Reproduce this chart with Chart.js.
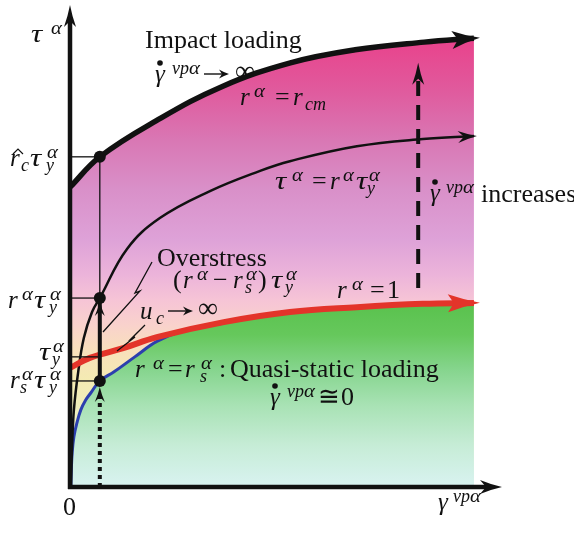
<!DOCTYPE html>
<html>
<head>
<meta charset="utf-8">
<script src="https://cdn.jsdelivr.net/npm/chart.js@4.4.1/dist/chart.umd.min.js"></script>
<style>
  body { margin: 0; background: #fff; }
  #wrap { width: 574px; height: 533px; }
</style>
</head>
<body>
<div id="wrap"><canvas id="chartCurvas" width="574" height="533"></canvas></div>
<script>
// curvas (x: gamma vp, y: tau), unidades arbitrarias 0..10
const impactoX = [0, 0.69, 2.0, 3.5, 5.1, 6.6, 8.2, 9.35];
const impactoY = [6.22, 6.85, 7.6, 8.3, 8.8, 9.07, 9.23, 9.31];
const tensionX = [0.02, 0.05, 0.09, 0.19, 0.32, 0.51, 0.69, 1.32, 2.08, 3.24, 4.40, 5.09, 6.64, 8.17, 9.35];
const tensionY = [0, 0.87, 1.60, 2.39, 3.09, 3.63, 3.92, 4.94, 5.58, 6.14, 6.56, 6.76, 7.07, 7.22, 7.28];
const fluenciaX = [0, 0.46, 1.23, 2.01, 3.56, 5.09, 6.64, 8.17, 9.35];
const fluenciaY = [2.47, 2.68, 2.88, 3.11, 3.42, 3.63, 3.73, 3.80, 3.82];
const estaticoX = [0.02, 0.03, 0.05, 0.09, 0.16, 0.25, 0.36, 0.48, 0.69, 1.02, 1.50, 2.01, 2.55, 3.56];
const estaticoY = [0, 0.35, 0.71, 1.04, 1.33, 1.60, 1.80, 1.95, 2.20, 2.39, 2.70, 3.02, 3.22, 3.40];

// marcas
const gammaMarca = 0.69;
const nivelFluencia = 2.70;
const flechaX = 8.06, flechaDesde = 4.13, flechaHasta = 8.80;

const pts = (xs, ys) => xs.map((x, i) => ({ x: x, y: ys[i] }));
const enMarca = (xs, ys) => ys[xs.indexOf(gammaMarca)];
// borde verde: curva azul hasta que se junta con la roja, luego la roja
const bordeVerde = pts(estaticoX, estaticoY).filter(p => p.x < 3)
  .concat(pts(fluenciaX, fluenciaY).filter(p => p.x > 3));

function degradado(chart, paradas) {
  const g = chart.ctx.createLinearGradient(0, 0, 0, 533);
  paradas.forEach(([py, col]) => g.addColorStop(py / 533, col));
  return g;
}
const rosa = [[38, '#e9428b'], [90, '#e05a9d'], [140, '#d977b4'], [190, '#d990c9'], [240, '#dea2d8'],
  [275, '#ecb4da'], [300, '#f6c4d6'], [325, '#f9d2cc'], [350, '#f8e0bc'], [380, '#f4ebb2'],
  [430, '#ecf1c6'], [487, '#d8f1ec']];
const verde = [[300, '#58c14c'], [335, '#66c85c'], [370, '#86d58e'], [405, '#a8e2b4'],
  [445, '#c6ecd6'], [487, '#d9f3f1']];

const SERIF = '"Liberation Serif", "DejaVu Serif", serif';

// tau y alfa algo mas anchas, como en la figura
function letras(c, t, x, y, size, italic) {
  c.font = (italic ? 'italic ' : '') + size + 'px ' + SERIF;
  let cx = x;
  for (const ch of t) {
    const w = c.measureText(ch).width;
    const k = ch === 'τ' ? 1.25 : ch === 'α' ? 1.15 : 1;
    if (k !== 1) {
      c.save(); c.translate(cx, y); c.scale(k, 1); c.fillText(ch, 0, 0); c.restore();
    } else {
      c.fillText(ch, cx, y);
    }
    cx += w * k;
  }
  return cx - x;
}

// [x, linea base, texto, tipo]  i: cursiva, n: recta, p: superindice, b: subindice,
// g: gamma con punto, h: r con gorro, f: flecha (texto = largo), inf: infinito
const textos = [
  [31, 42, 'τ', 'i'], [51, 42, 'α', 'p'],
  [145, 48, 'Impact loading', 'n'],
  [155, 82, 'γ', 'g'], [172, 82, 'vpα', 'p'], [204, 82, 25, 'f'], [235, 82, '∞', 'inf'],
  [240, 105, 'r', 'i'], [254, 105, 'α', 'p'], [275, 105, '=', 'n'], [293, 105, 'r', 'i'], [305, 105, 'cm', 'b'],
  [10, 166, 'r', 'h'], [21, 166, 'c', 'b'], [30, 166, 'τ', 'i'], [47, 166, 'α', 'p'], [46, 166, 'y', 'b'],
  [275, 189, 'τ', 'i'], [292, 189, 'α', 'p'], [312, 189, '=', 'n'], [330, 189, 'r', 'i'], [343, 189, 'α', 'p'],
  [356, 189, 'τ', 'i'], [369, 189, 'α', 'p'], [367, 189, 'y', 'b'],
  [430, 201, 'γ', 'g'], [446, 201, 'vpα', 'p'], [481, 202, 'increases', 'n'],
  [157, 266, 'Overstress', 'n'],
  [173, 288, '(', 'n'], [183, 288, 'r', 'i'], [197, 288, 'α', 'p'], [213, 288, '−', 'n'], [233, 288, 'r', 'i'],
  [246, 288, 'α', 'p'], [245, 288, 's', 'b'], [258, 288, ')', 'n'], [271, 288, 'τ', 'i'], [286, 288, 'α', 'p'], [285, 288, 'y', 'b'],
  [8, 308, 'r', 'i'], [22, 308, 'α', 'p'], [34, 308, 'τ', 'i'], [50, 308, 'α', 'p'], [49, 308, 'y', 'b'],
  [140, 319, 'u', 'i'], [156, 319, 'c', 'b'], [168, 319, 25, 'f'], [198, 319, '∞', 'inf'],
  [337, 298, 'r', 'i'], [352, 298, 'α', 'p'], [370, 298, '=', 'n'], [387, 298, '1', 'n'],
  [39, 360, 'τ', 'i'], [53, 360, 'α', 'p'], [52, 360, 'y', 'b'],
  [10, 388, 'r', 'i'], [22, 388, 'α', 'p'], [20, 388, 's', 'b'], [34, 388, 'τ', 'i'], [50, 388, 'α', 'p'], [49, 388, 'y', 'b'],
  [135, 377, 'r', 'i'], [153, 377, 'α', 'p'], [168, 377, '=', 'n'], [185, 377, 'r', 'i'], [201, 377, 'α', 'p'],
  [200, 377, 's', 'b'], [219, 377, ':', 'n'], [230, 377, 'Quasi-static loading', 'n'],
  [270, 405, 'γ', 'g'], [287, 405, 'vpα', 'p'], [318, 405, '≅', 'n'], [341, 405, '0', 'n'],
  [63, 515, '0', 'n'],
  [438, 510, 'γ', 'i'], [453, 510, 'vpα', 'p']
];

function escribir(c, [x, y, t, tipo]) {
  if (tipo === 'n') return letras(c, t, x, y, 26, false);
  if (tipo === 'i') return letras(c, t, x, y, 25, true);
  if (tipo === 'p') return letras(c, t, x, y - 8, 18, true);
  if (tipo === 'b') return letras(c, t, x, y + 5, 18, true);
  if (tipo === 'inf') return letras(c, t, x, y - 2, 28, false);
  if (tipo === 'g') {
    letras(c, t, x, y, 25, true);
    c.beginPath(); c.arc(x + 5, y - 19, 2.8, 0, Math.PI * 2); c.fill();
    return;
  }
  if (tipo === 'h') {
    letras(c, t, x, y, 25, true);
    c.lineWidth = 1.2; c.beginPath();
    c.moveTo(x + 3, y - 12); c.lineTo(x + 8, y - 17); c.lineTo(x + 13, y - 12); c.stroke();
    return;
  }
  if (tipo === 'f') {
    c.lineWidth = 1.4; c.beginPath(); c.moveTo(x, y - 8); c.lineTo(x + t - 4, y - 8); c.stroke();
    punta(c, x + t, y - 8, 0, 10, 4.5, 3);
  }
}

// lineas quebradas que señalan zonas (pixeles)
const rayos = [
  [[152, 262], [135, 293], [140, 291], [103, 332]],
  [[145, 325], [131, 339], [135, 337], [117, 351]]
];

function punta(c, x, y, ang, largo, ancho, muesca) {
  c.save(); c.translate(x, y); c.rotate(ang);
  c.beginPath();
  c.moveTo(0, 0);
  c.quadraticCurveTo(-largo * 0.5, -ancho * 0.35, -largo, -ancho);
  c.lineTo(-largo + muesca, 0);
  c.lineTo(-largo, ancho);
  c.quadraticCurveTo(-largo * 0.5, ancho * 0.35, 0, 0);
  c.closePath(); c.fill();
  c.restore();
}

const decorado = {
  id: 'decorado',
  afterDatasetsDraw(chart) {
    const c = chart.ctx;
    const X = v => chart.scales.x.getPixelForValue(v);
    const Y = v => chart.scales.y.getPixelForValue(v);
    c.save();
    c.fillStyle = '#111'; c.strokeStyle = '#111';

    // flechas al final de las curvas
    function flechaCurva(idx, color, largo, ancho, extra) {
      const d = chart.getDatasetMeta(idx).data;
      const a = d[d.length - 2], b = d[d.length - 1];
      const ang = Math.atan2(b.y - a.y, b.x - a.x);
      c.fillStyle = color;
      punta(c, b.x + Math.cos(ang) * extra, b.y + Math.sin(ang) * extra, ang, largo, ancho, 6);
      c.fillStyle = '#111';
    }
    flechaCurva(3, '#e3342a', 32, 9, 6);
    flechaCurva(2, '#111', 19, 6, 3);
    flechaCurva(5, '#111', 28, 9, 6);

    // ejes
    c.lineWidth = 4.5;
    c.beginPath(); c.moveTo(X(0), Y(0) + 2); c.lineTo(X(0), Y(10) + 14); c.stroke();
    punta(c, X(0), Y(10), -Math.PI / 2, 22, 6, 6);
    c.beginPath(); c.moveTo(X(0) - 2, Y(0)); c.lineTo(X(10) - 14, Y(0)); c.stroke();
    punta(c, X(10), Y(0), 0, 22, 7, 6);

    const xm = X(gammaMarca);
    const yImp = enMarca(impactoX, impactoY);
    const yTen = enMarca(tensionX, tensionY);
    const yEst = enMarca(estaticoX, estaticoY);
    const niveles = [yImp, yTen, nivelFluencia, yEst];
    c.lineWidth = 1.3;
    niveles.forEach(v => { c.beginPath(); c.moveTo(X(0), Y(v)); c.lineTo(xm, Y(v)); c.stroke(); });
    c.beginPath(); c.moveTo(xm, Y(yImp)); c.lineTo(xm, Y(yTen)); c.stroke();

    // tramo grueso con flechas
    c.lineWidth = 4;
    c.beginPath(); c.moveTo(xm, Y(yTen)); c.lineTo(xm, Y(yEst)); c.stroke();
    punta(c, xm, Y(yTen) + 3, -Math.PI / 2, 15, 5, 5);
    punta(c, xm, Y(yEst) + 6, -Math.PI / 2, 15, 5, 5);

    // punteado desde el eje
    c.setLineDash([4, 4]);
    c.beginPath(); c.moveTo(xm, Y(0)); c.lineTo(xm, Y(yEst) + 14); c.stroke();

    // flecha a trazos: la velocidad aumenta
    c.setLineDash([15, 9]);
    c.beginPath(); c.moveTo(X(flechaX), Y(flechaDesde)); c.lineTo(X(flechaX), Y(flechaHasta) + 14); c.stroke();
    c.setLineDash([]);
    punta(c, X(flechaX), Y(flechaHasta), -Math.PI / 2, 22, 6, 6);

    // puntos
    [yImp, yTen, yEst].forEach(v => {
      c.beginPath(); c.arc(xm, Y(v), 6, 0, Math.PI * 2); c.fill();
    });

    // rayos
    c.lineWidth = 1.3;
    rayos.forEach(r => {
      c.beginPath(); c.moveTo(r[0][0], r[0][1]);
      r.slice(1).forEach(p => c.lineTo(p[0], p[1]));
      c.stroke();
    });

    // textos
    c.textBaseline = 'alphabetic';
    c.fillStyle = '#111'; c.strokeStyle = '#111';
    textos.forEach(t => escribir(c, t));
    c.restore();
  }
};

const ctx = document.getElementById('chartCurvas');
let grafico = new Chart(ctx, {
  type: 'line',
  data: {
    datasets: [
      { // 0: relleno rosa bajo la curva de impacto
        data: pts(impactoX, impactoY), order: 10, fill: 'origin',
        borderColor: 'transparent', borderWidth: 0,
        backgroundColor: (c) => degradado(c.chart, rosa)
      },
      { // 1: relleno verde bajo la curva cuasi estatica
        data: bordeVerde, order: 9, fill: 'origin',
        borderColor: 'transparent', borderWidth: 0,
        backgroundColor: (c) => degradado(c.chart, verde)
      },
      { // 2: tau = r tau_y
        data: pts(tensionX, tensionY), order: 4, fill: false,
        borderColor: '#111', borderWidth: 2.5
      },
      { // 3: r = 1
        data: pts(fluenciaX, fluenciaY), order: 3, fill: false,
        borderColor: '#e3342a', borderWidth: 6
      },
      { // 4: r = rs
        data: pts(estaticoX, estaticoY), order: 5, fill: false,
        borderColor: '#2c3fae', borderWidth: 3
      },
      { // 5: impacto
        data: pts(impactoX, impactoY), order: 2, fill: false,
        borderColor: '#111', borderWidth: 5.5
      }
    ]
  },
  options: {
    responsive: false,
    animation: false,
    layout: { padding: { left: 70, right: 72, top: 5, bottom: 46 } },
    scales: {
      x: { type: 'linear', min: 0, max: 10, display: false },
      y: { type: 'linear', min: 0, max: 10, display: false }
    },
    elements: {
      point: { radius: 0 },
      line: { tension: 0.4, borderCapStyle: 'butt' }
    },
    plugins: {
      legend: { display: false },
      tooltip: { enabled: false },
      filler: { drawTime: 'beforeDatasetsDraw' }
    }
  },
  plugins: [decorado]
});
</script>
</body>
</html>
